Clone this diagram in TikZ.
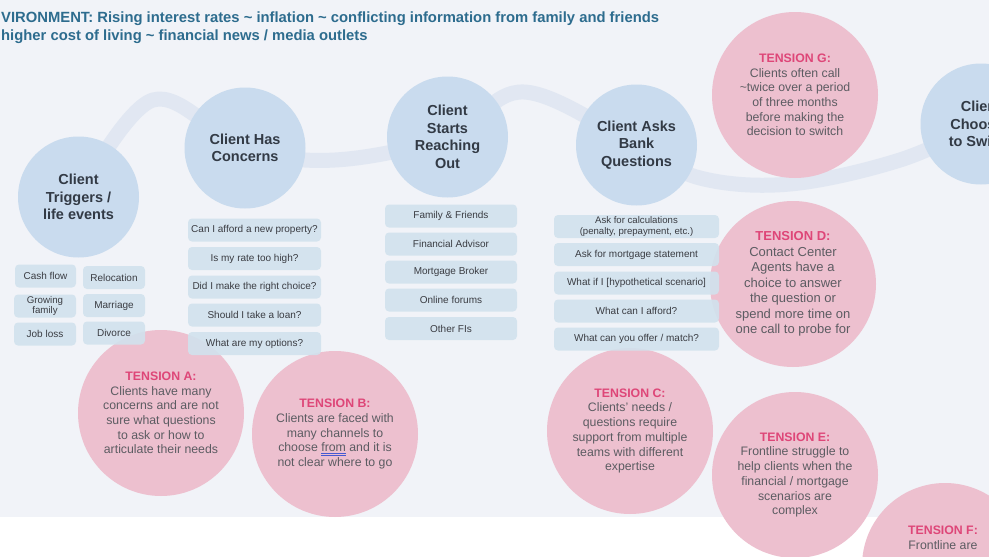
\documentclass[tikz,border=0pt]{standalone}
\usepackage{fontspec}
\setmainfont{Liberation Sans}
\definecolor{bgcol}{RGB}{241,243,248}
\definecolor{bandcol}{RGB}{225,231,242}
\definecolor{stagecol}{RGB}{201,219,238}
\definecolor{boxcol}{RGB}{209,226,237}
\definecolor{pinkcol}{RGB}{237,192,207}
\definecolor{tensred}{RGB}{222,70,120}
\definecolor{bodygray}{RGB}{92,92,98}
\definecolor{titlecol}{RGB}{50,58,69}
\definecolor{headcol}{RGB}{45,108,142}
\definecolor{boxtext}{RGB}{58,60,66}
\definecolor{spellblue}{RGB}{70,90,210}
\newcommand\spellmark[1]{\setbox0\hbox{#1}\rlap{\color{spellblue}\rule[-2.2pt]{\wd0}{0.5pt}}\rlap{\color{spellblue}\rule[-3.4pt]{\wd0}{0.5pt}}\box0\relax}
\newcommand\tens[1]{{\color{tensred}\bfseries #1}}
\begin{document}
\begin{tikzpicture}[x=1pt,y=-1pt,
  band/.style={line width=15pt,draw=bandcol,line cap=round},
  stage/.style={circle,fill=stagecol,minimum size=121pt,inner sep=0pt,align=center,
    text=titlecol,font=\bfseries\fontsize{14.5}{17.5}\selectfont},
  tenscirc/.style={circle,fill=pinkcol,minimum size=166pt,inner sep=0pt},
  tenstext/.style={align=center,text=bodygray,font=\fontsize{12.3}{14.7}\selectfont},
  qbox/.style={rounded corners=4pt,fill=boxcol,fill opacity=0.9,text opacity=1,inner sep=0pt,
    minimum height=23pt,align=center,text=boxtext,font=\fontsize{10}{10.5}\selectfont},
  headtext/.style={anchor=base west,inner sep=0pt,text=headcol,font=\bfseries\fontsize{14.8}{16}\selectfont}
]
\useasboundingbox (0,0) rectangle (989,557);
\fill[white] (0,0) rectangle (989,557);
\fill[bgcol] (0,0) rectangle (989,517);

% header
\node[headtext] (env1) at (1,22) {VIRONMENT: Rising interest rates \textasciitilde{} inflation \textasciitilde{} conflicting information from family and friends};
\node[headtext] (env2) at (1,40) {higher cost of living \textasciitilde{} financial news / media outlets};

% stage centres and band
\coordinate (p1) at (78.5,197);
\coordinate (p2) at (245,148);
\coordinate (p3) at (447.5,137);
\coordinate (p4) at (636.5,145);
\coordinate (p5) at (981,124);
\coordinate (k1) at (153,100);
\coordinate (k2) at (335,160);
\coordinate (k3) at (524,92);
\coordinate (k4) at (700,178);
\coordinate (k5) at (790,184);
\coordinate (k6) at (900,160);
\draw[band] plot[smooth,tension=0.6] coordinates {(p1) (k1) (p2) (k2) (p3) (k3) (p4) (k4) (k5) (k6) (p5)};

% stages
\node[stage] (trig) at (p1) {Client\\Triggers /\\life events};
\node[stage] (conc) at (p2) {Client Has\\Concerns};
\node[stage] (reach) at (p3) {Client\\Starts\\Reaching\\Out};
\node[stage] (bank) at (p4) {Client Asks\\Bank\\Questions};
\node[stage] (switch) at (p5) {Client\\Chooses\\to Switch};

% tension circles (fill only)
\node[tenscirc] (tA) at (161,413) {};
\node[tenscirc] (tB) at (335,434) {};
\node[tenscirc] (tC) at (630,431) {};
\node[tenscirc] (tD) at (793,284) {};
\node[tenscirc] (tE) at (795,475) {};
\node[tenscirc] (tF) at (945,566) {};
\node[tenscirc] (tG) at (795,95) {};

% trigger boxes
\node[qbox,minimum width=61pt] (b1) at (45.5,276) {Cash flow};
\node[qbox,minimum width=62pt] (b2) at (114,277.5) {Relocation};
\node[qbox,minimum width=62pt,font=\fontsize{9.7}{10.3}\selectfont] (b3) at (45,306) {Growing\\family};
\node[qbox,minimum width=62pt] (b4) at (114,305.5) {Marriage};
\node[qbox,minimum width=62pt] (b5) at (45,334) {Job loss};
\node[qbox,minimum width=62pt] (b6) at (114,333) {Divorce};

% concern boxes
\node[qbox,minimum width=133pt] (c1) at (254.5,230) {Can I afford a new property?};
\node[qbox,minimum width=133pt] (c2) at (254.5,258.5) {Is my rate too high?};
\node[qbox,minimum width=133pt] (c3) at (254.5,287) {Did I make the right choice?};
\node[qbox,minimum width=133pt] (c4) at (254.5,315) {Should I take a loan?};
\node[qbox,minimum width=133pt] (c5) at (254.5,343.5) {What are my options?};

% reaching boxes
\node[qbox,minimum width=132pt] (r1) at (451,216) {Family \& Friends};
\node[qbox,minimum width=132pt] (r2) at (451,244) {Financial Advisor};
\node[qbox,minimum width=132pt] (r3) at (451,272) {Mortgage Broker};
\node[qbox,minimum width=132pt] (r4) at (451,300) {Online forums};
\node[qbox,minimum width=132pt] (r5) at (451,328.5) {Other FIs};

% bank boxes
\node[qbox,minimum width=165pt,font=\fontsize{9.6}{10.4}\selectfont] (q1) at (636.5,226.5) {Ask for calculations\\(penalty, prepayment, etc.)};
\node[qbox,minimum width=165pt] (q2) at (636.5,254.5) {Ask for mortgage statement};
\node[qbox,minimum width=165pt] (q3) at (636.5,283) {What if I [hypothetical scenario]};
\node[qbox,minimum width=165pt] (q4) at (636.5,311) {What can I afford?};
\node[qbox,minimum width=165pt] (q5) at (636.5,339) {What can you offer / match?};

% tension texts
\node[tenstext] (tAt) at (tA) {\tens{TENSION A:}\\Clients have many\\concerns and are not\\sure what questions\\to ask or how to\\articulate their needs};
\node[tenstext] (tBt) at (tB) {\tens{TENSION B:}\\Clients are faced with\\many channels to\\choose \spellmark{from} and it is\\not clear where to go};
\node[tenstext] (tCt) at (tC) {\tens{TENSION C:}\\Clients' needs /\\questions require\\support from multiple\\teams with different\\expertise};
\node[tenstext,font=\fontsize{13}{15.5}\selectfont] (tDt) at (tD) {\tens{TENSION D:}\\Contact Center\\Agents have a\\choice to answer\\the question or\\spend more time on\\one call to probe for};
\node[tenstext] (tEt) at (tE) {\tens{TENSION E:}\\Frontline struggle to\\help clients when the\\financial / mortgage\\scenarios are\\complex};
\node[tenstext,anchor=north,inner sep=0pt] (tFt) at (943,526) {\tens{TENSION F:}\\Frontline are};
\node[tenstext] (tGt) at (tG) {\tens{TENSION G:}\\Clients often call\\\textasciitilde twice over a period\\of three months\\before making the\\decision to switch};
\end{tikzpicture}
\end{document}
